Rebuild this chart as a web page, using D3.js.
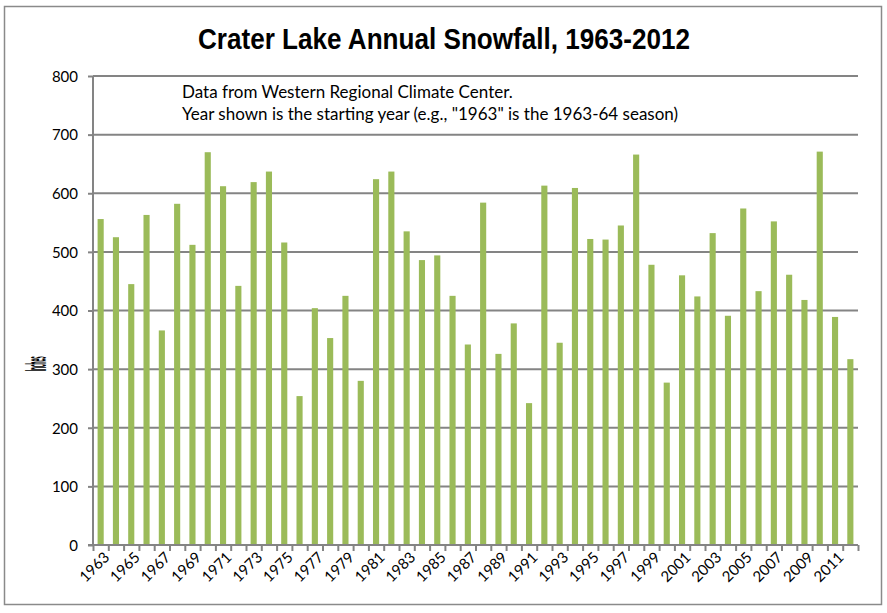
<!DOCTYPE html>
<html>
<head>
<meta charset="utf-8">
<script src="https://cdn.jsdelivr.net/npm/d3@7"></script>
<style>
  body { margin: 0; background: #fff; }
  svg text { font-family: Lato, "Open Sans", sans-serif; fill: #000; }
</style>
</head>
<body>
<div id="chart"></div>
<script>
// season start years and snowfall (inches)
var years = d3.range(1963, 2013);
var snowfall = [556, 525, 445, 563, 366, 582, 512, 670, 612, 442,
                619, 637, 516, 254, 404, 353, 425, 280, 624, 637,
                535, 486, 494, 425, 342, 584, 326, 378, 242, 613,
                345, 609, 522, 521, 545, 666, 478, 277, 460, 424,
                532, 391, 574, 433, 552, 461, 418, 671, 389, 317];
var yTicks = [0, 100, 200, 300, 400, 500, 600, 700, 800];
var labelYears = years.filter(function(d, i) { return i % 2 == 0; });

var width = 887, height = 613;
var plotLeft = 93, plotRight = 858, plotTop = 76, plotBottom = 545;

var svg = d3.select("#chart").append("svg")
    .attr("width", width)
    .attr("height", height);

// outer border
svg.append("rect")
    .attr("x", 4.5).attr("y", 6.5)
    .attr("width", 877).attr("height", 598)
    .style("fill", "#fff")
    .style("stroke", "#8a8a8a")
    .style("stroke-width", 1.5);

svg.append("text")
    .attr("x", 444).attr("y", 49)
    .attr("text-anchor", "middle")
    .attr("textLength", 492)
    .attr("lengthAdjust", "spacingAndGlyphs")
    .style("font-family", "'Liberation Sans Narrow', 'Arial Narrow', 'Liberation Sans', sans-serif")
    .style("font-weight", "bold")
    .style("font-size", "29px")
    .text("Crater Lake Annual Snowfall, 1963-2012");

var x = d3.scaleBand()
    .domain(years)
    .range([plotLeft, plotRight])
    .paddingInner(0.6)
    .paddingOuter(0.3);

var idx = d3.scaleLinear()
    .domain([0, years.length])
    .range([plotLeft, plotRight]);

var y = d3.scaleLinear()
    .domain([0, 800])
    .range([plotBottom, plotTop]);

// gridlines
svg.append("g").selectAll("line")
    .data(yTicks.filter(function(d) { return d > 0; }))
    .enter().append("line")
    .attr("x1", plotLeft).attr("x2", plotRight)
    .attr("y1", function(d) { return y(d); })
    .attr("y2", function(d) { return y(d); })
    .style("stroke", "#848484")
    .style("stroke-width", 2);

// bars
svg.append("g").selectAll("rect")
    .data(snowfall)
    .enter().append("rect")
    .attr("x", function(d, i) { return x(years[i]); })
    .attr("y", function(d) { return y(d); })
    .attr("width", x.bandwidth())
    .attr("height", function(d) { return y(0) - y(d); })
    .style("fill", "#9bbb59");

// y axis
var yAxis = svg.append("g")
    .attr("transform", "translate(" + plotLeft + ",0)")
    .call(d3.axisLeft(y).tickValues(yTicks).tickSize(5).tickPadding(10));
yAxis.selectAll("path, line").style("stroke", "#848484").style("stroke-width", 2);
yAxis.select(".domain").attr("d", "M0," + plotTop + "V" + plotBottom);
yAxis.selectAll("text")
    .style("font-family", "Lato, sans-serif")
    .style("font-size", "15px")
    .attr("dy", "0.35em");

// x axis ticks at category boundaries
var xTicks = svg.append("g")
    .attr("transform", "translate(0," + plotBottom + ")")
    .call(d3.axisBottom(idx).tickValues(d3.range(years.length + 1)).tickFormat("").tickSize(6));
xTicks.selectAll("path, line").style("stroke", "#848484").style("stroke-width", 2);
xTicks.select(".domain").attr("d", "M" + (plotLeft - 5) + ",0H" + plotRight);

// x labels, every other year
var xLabels = svg.append("g")
    .attr("transform", "translate(0," + plotBottom + ")")
    .call(d3.axisBottom(x).tickValues(labelYears).tickSize(0));
xLabels.select(".domain").remove();
xLabels.selectAll("text")
    .style("font-family", "Lato, sans-serif")
    .style("font-size", "15px")
    .style("text-anchor", "end")
    .attr("dx", "0.3em")
    .attr("dy", "0.6em")
    .attr("transform", "translate(-2,8) rotate(-45)");

// y axis title (rendered as a squashed glyph in the original)
svg.append("text")
    .attr("transform", "translate(46,364) rotate(-90)")
    .attr("text-anchor", "middle")
    .attr("textLength", 15)
    .attr("lengthAdjust", "spacingAndGlyphs")
    .style("font-weight", "900")
    .style("font-size", "28px")
    .text("Inches");

// note
var note = svg.append("text")
    .attr("x", 182).attr("y", 98)
    .style("font-size", "17px");
note.append("tspan").attr("x", 182).text("Data from Western Regional Climate Center.");
note.append("tspan").attr("x", 182).attr("dy", 22)
    .text("Year shown is the starting year (e.g., \"1963\" is the 1963-64 season)");
</script>
</body>
</html>
